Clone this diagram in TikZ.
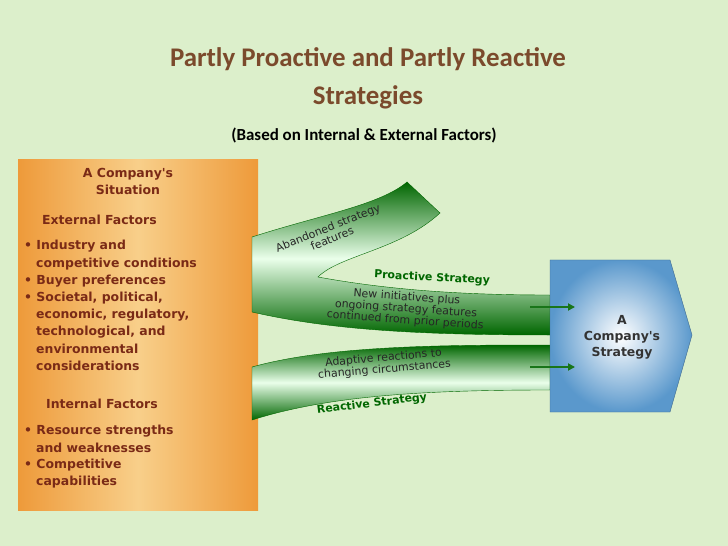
\documentclass[tikz,border=0pt]{standalone}
\usepackage{fontspec}
\setmainfont{Carlito}
\newfontfamily\boxfont{DejaVu Sans}
\usetikzlibrary{arrows.meta}
\definecolor{PageGreen}{HTML}{DCEFCB}
\definecolor{TitleBrown}{HTML}{7B4A2C}
\definecolor{SituationText}{HTML}{7A2A16}
\definecolor{OrangeEdge}{HTML}{EE9A3A}
\definecolor{OrangeMid}{HTML}{F8CF8A}
\colorlet{BandDark}{green!40!black}
\colorlet{BandLight}{green!8!white}
\definecolor{StrategyBlue}{HTML}{5A98CC}
\tikzset{
  boxline/.style={font=\boxfont\bfseries\fontsize{12.5}{14}\selectfont, text=SituationText, anchor=west, inner sep=0pt},
  bandtext/.style={font=\boxfont\fontsize{11}{11.5}\selectfont, text=black!85, align=center, inner sep=0pt},
  bandtitle/.style={font=\boxfont\bfseries\fontsize{11}{12}\selectfont, text=BandDark, inner sep=0pt},
  bandarrow/.style={-{Triangle[length=7pt,width=7pt]}, line width=2pt, draw=BandDark!90},
}
\begin{document}
\begin{tikzpicture}[x=1bp,y=-1bp]

    \fill[PageGreen] (0,0) rectangle (728,546);
    \useasboundingbox (0,0) rectangle (728,546);

    % title
    \node[font=\bfseries\fontsize{27}{38}\selectfont, text=TitleBrown, align=center] (title) at (368,78)
      {Partly Proactive and Partly Reactive\\Strategies};
    \node[font=\bfseries\fontsize{17}{20}\selectfont] (subtitle) at (364,135)
      {(Based on Internal \& External Factors)};

    % situation box
    \shade[left color=OrangeEdge, right color=OrangeEdge, middle color=OrangeMid]
      (18,160) rectangle (258,510);
    \node[font=\boxfont\bfseries\fontsize{12.5}{17}\selectfont, text=SituationText, align=center] (situation) at (128,181)
      {A Company's\\Situation};
    \node[boxline] (external) at (42,220) {External Factors};
    \node[boxline] (ext1) at (24,246) {• Industry and};
    \node[boxline] (ext2) at (36,264) {competitive conditions};
    \node[boxline] (ext3) at (24,281) {• Buyer preferences};
    \node[boxline] (ext4) at (24,298) {• Societal, political,};
    \node[boxline] (ext5) at (36,315) {economic, regulatory,};
    \node[boxline] (ext6) at (36,332) {technological, and};
    \node[boxline] (ext7) at (36,349) {environmental};
    \node[boxline] (ext8) at (36,366) {considerations};
    \node[boxline] (internal) at (46,404) {Internal Factors};
    \node[boxline] (int1) at (24,431) {• Resource strengths};
    \node[boxline] (int2) at (36,448) {and weaknesses};
    \node[boxline] (int3) at (24,465) {• Competitive};
    \node[boxline] (int4) at (36,482) {capabilities};

    % proactive band with abandoned branch
    \shade[top color=BandDark, bottom color=BandDark, middle color=BandLight, draw=BandDark]
      (252,237) .. controls (320,215) and (380,205) .. (407,182)
      -- (440,213) .. controls (400,250) and (340,255) .. (318,277)
      .. controls (400,292) and (480,295) .. (550,295)
      -- (550,335) .. controls (420,335) and (330,330) .. (252,312) -- cycle;
    % reactive band
    \shade[top color=BandDark, bottom color=BandDark, middle color=BandLight, draw=BandDark]
      (252,367) .. controls (330,345) and (450,345) .. (550,345)
      -- (550,390) .. controls (430,390) and (330,395) .. (252,420) -- cycle;

    % strategy box
    \shade[outer color=StrategyBlue, inner color=white, draw=StrategyBlue!70!black]
      (550,260) -- (670,260) -- (692,335) -- (670,412) -- (550,412) -- cycle;
    \node[font=\boxfont\bfseries\fontsize{12.5}{16}\selectfont, text=black!80, align=center] (strategy) at (622,337)
      {A\\Company's\\Strategy};

    % band labels
    \node[bandtext, rotate=22] (abandoned) at (330,233) {Abandoned strategy\\features};
    \node[bandtitle, rotate=-3] (proactive) at (432,278) {Proactive Strategy};
    \node[bandtext, rotate=-4] (ongoing) at (406,309) {New initiatives plus\\ongoing strategy features\\continued from prior periods};
    \node[bandtext, rotate=5] (adaptive) at (384,364) {Adaptive reactions to\\changing circumstances};
    \node[bandtitle, rotate=7] (reactive) at (372,404) {Reactive Strategy};

    % arrows into the strategy box
    \coordinate (proStart) at (530,307);
    \coordinate (proEnd) at (575,307);
    \coordinate (reStart) at (530,367);
    \coordinate (reEnd) at (575,367);
    \draw[bandarrow] (proStart) -- (proEnd);
    \draw[bandarrow] (reStart) -- (reEnd);

\end{tikzpicture}
\end{document}
